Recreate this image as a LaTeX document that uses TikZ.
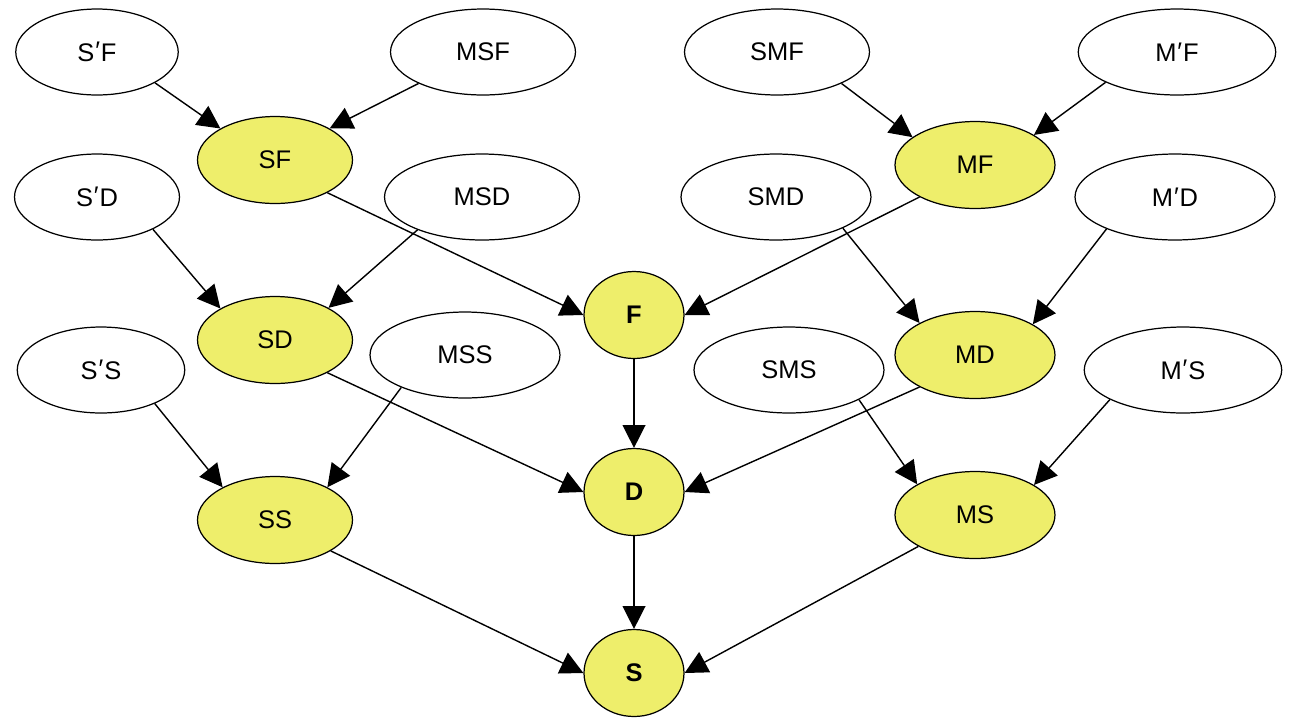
\documentclass[tikz,border=0pt]{standalone}
\usepackage{fontspec}
\setmainfont{Liberation Sans}
\usetikzlibrary{shapes.geometric,arrows.meta}
\definecolor{nodeyellow}{HTML}{EEEE6B}
\newcommand{\pr}{\kern0.5pt\raisebox{0.1ex}{\char"2032}\kern0.5pt}

\begin{document}
\begin{tikzpicture}[x=0.02cm, y=-0.02cm,
    plain/.style={draw, ellipse, inner sep=0pt, minimum width=3.7cm, minimum height=1.72cm, font=\fontsize{14.5}{17}\selectfont, line width=0.7pt},
    goal/.style={draw, ellipse, inner sep=0pt, minimum width=3.1cm, minimum height=1.74cm, fill=nodeyellow, font=\fontsize{14.5}{17}\selectfont, line width=0.7pt},
    top/.style={goal, minimum width=2cm, font=\fontsize{14.5}{17}\selectfont\bfseries},
    arrow/.style={-{Triangle[length=13pt, width=13pt]}, line width=0.8pt},
]
\useasboundingbox (0,0) rectangle (1289,718);

% first row
\node[plain, minimum width=3.25cm] (spf) at (97,52) {S\pr F};
\node[plain] (msf) at (483,52) {MSF};
\node[plain] (smf) at (777,52) {SMF};
\node[plain, minimum width=3.95cm] (mpf) at (1177,52) {M\pr F};
\node[goal] (sf) at (275,160) {SF};
\node[goal, minimum width=3.2cm] (mf) at (975,165) {MF};

% second row
\node[plain, minimum width=3.3cm] (spd) at (97,197) {S\pr D};
\node[plain, minimum width=3.9cm] (msd) at (482,197) {MSD};
\node[plain, minimum width=3.8cm] (smd) at (776,197) {SMD};
\node[plain, minimum width=4cm] (mpd) at (1175,197) {M\pr D};
\node[top] (f) at (634,315) {F};
\node[goal] (sd) at (275,340) {SD};
\node[goal, minimum width=3.2cm] (md) at (975,355) {MD};

% third row
\node[plain, minimum width=3.35cm] (sps) at (101,370) {S\pr S};
\node[plain, minimum width=3.8cm] (mss) at (465,355) {MSS};
\node[plain, minimum width=3.8cm] (sms) at (789,370) {SMS};
\node[plain, minimum width=3.95cm] (mps) at (1183,370) {M\pr S};
\node[top] (d) at (634,492) {D};
\node[goal] (ss) at (275,520) {SS};
\node[goal, minimum width=3.2cm] (ms) at (975,515) {MS};

% bottom
\node[top] (s) at (634,673) {S};

% edges into SF and MF
\draw[arrow] (spf.-28) -- (sf.150);
\draw[arrow] (msf.206) -- (sf.30);
\draw[arrow] (smf.-26) -- (mf.156);
\draw[arrow] (mpf.203) -- (mf.27);
% edges into F
\draw[arrow] (sf.-32) -- (f.west);
\draw[arrow] (mf.210) -- (f.east);
% edges into SD and MD
\draw[arrow] (spd.-30) -- (sd.150);
\draw[arrow] (msd.207) -- (sd.31);
\draw[arrow] (smd.-25) -- (md.150);
\draw[arrow] (mpd.205) -- (md.28);
% edges into D
\draw[arrow] (sd.-32) -- (d.west);
\draw[arrow] (md.210) -- (d.east);
\draw[arrow] (f) -- (d);
% edges into SS and MS
\draw[arrow] (sps.-32) -- (ss.148);
\draw[arrow] (mss.207) -- (ss.32);
\draw[arrow] (sms.-23) -- (ms.152);
\draw[arrow] (mps.202) -- (ms.27);
% edges into S
\draw[arrow] (ss.-29) -- (s.west);
\draw[arrow] (ms.209) -- (s.east);
\draw[arrow] (d) -- (s);
\end{tikzpicture}
\end{document}
